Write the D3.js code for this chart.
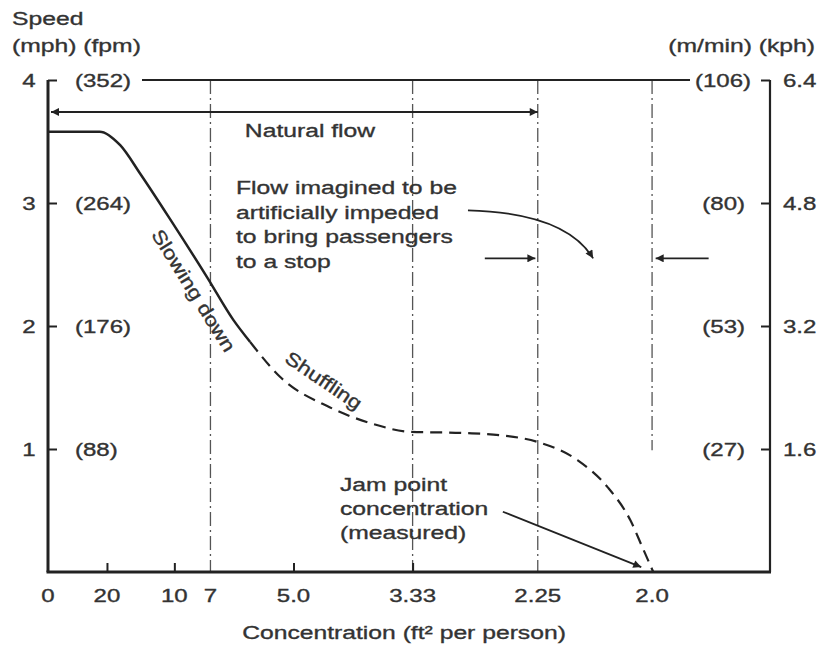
<!DOCTYPE html>
<html>
<head>
  <meta charset="utf-8">
  <script src="https://d3js.org/d3.v7.min.js"></script>
  <style>
    body { margin: 0; background: #fff; }
    text { font-family: "Liberation Sans", Arial, Helvetica, sans-serif; fill: #333; stroke: #333; stroke-width: 0.35px; }
  </style>
</head>
<body>
  <div id="chart"></div>
  <script>

// speed scale (mph) and the matching labels on the other units
const mph = [1, 2, 3, 4];
const fpm = ["(88)", "(176)", "(264)", "(352)"];
const mMin = ["(27)", "(53)", "(80)", "(106)"];
const kph = ["1.6", "3.2", "4.8", "6.4"];

// x axis: persons per ft2, labelled as ft2 per person
const xTickPos = [0, 0.049, 0.105, 0.135, 0.204, 0.303, 0.407, 0.502];
const xTickLabels = ["0", "20", "10", "7", "5.0", "3.33", "2.25", "2.0"];
const xTickMarks = [0.049, 0.105, 0.204, 0.303];

// dash-dot guides: x position and lowest speed reached
const guideX = [0.135, 0.303, 0.407, 0.502];
const guideBottom = [0, 0, 0, 0.99];

// speed curve [density, mph]
const slowing = [[0, 3.58], [0.043, 3.58], [0.060, 3.47], [0.0765, 3.24], [0.104, 2.83],
                 [0.132, 2.40], [0.154, 2.05], [0.168, 1.87]];
const shuffling = [[0.168, 1.87], [0.193, 1.585], [0.234, 1.34], [0.268, 1.21], [0.301, 1.14],
                   [0.345, 1.13], [0.378, 1.11], [0.406, 1.06], [0.440, 0.91], [0.465, 0.69],
                   [0.484, 0.42], [0.494, 0.20], [0.503, 0]];

const width = 825, height = 650;
const x = d3.scaleLinear().domain([0, 0.6]).range([48, 770]);
const y = d3.scaleLinear().domain([0, 4]).range([572, 80]);

const svg = d3.select("#chart").append("svg")
  .attr("width", width)
  .attr("height", height);

const defs = svg.append("defs");
defs.append("marker")
  .attr("id", "head")
  .attr("viewBox", "0 0 10 10")
  .attr("refX", 10).attr("refY", 5)
  .attr("markerWidth", 11).attr("markerHeight", 8)
  .attr("markerUnits", "userSpaceOnUse")
  .attr("orient", "auto-start-reverse")
  .append("path")
  .attr("d", "M0,0 L10,5 L0,10 z")
  .attr("fill", "#222");

// text is drawn a little wider than normal, like the picture
function label(px, py, txt, anchor, size) {
  return svg.append("text")
    .attr("transform", `translate(${px},${py}) scale(1.3,1)`)
    .attr("text-anchor", anchor || "start")
    .attr("font-size", size || 19)
    .text(txt);
}

// guides
svg.selectAll(".guide")
  .data(guideX)
  .enter()
  .append("line")
  .attr("class", "guide")
  .attr("x1", d => x(d)).attr("x2", d => x(d))
  .attr("y1", y(4))
  .attr("y2", (d, i) => y(guideBottom[i]))
  .attr("stroke", "#555")
  .attr("stroke-width", 1.3)
  .attr("stroke-dasharray", "14,4,2,4");

// frame
svg.append("line").attr("x1", x(0)).attr("x2", x(0)).attr("y1", y(4)).attr("y2", y(0))
  .attr("stroke", "#222").attr("stroke-width", 3);
svg.append("line").attr("x1", x(0.6)).attr("x2", x(0.6)).attr("y1", y(4)).attr("y2", y(0))
  .attr("stroke", "#222").attr("stroke-width", 2.2);
svg.append("line").attr("x1", x(0) - 1.5).attr("x2", x(0.6) + 1).attr("y1", y(0)).attr("y2", y(0))
  .attr("stroke", "#222").attr("stroke-width", 3);
svg.append("line").attr("x1", 142).attr("x2", 690).attr("y1", y(4)).attr("y2", y(4))
  .attr("stroke", "#222").attr("stroke-width", 2);

// y axes, ticks pointing inward
const leftAxis = svg.append("g")
  .attr("transform", `translate(${x(0)},0)`)
  .call(d3.axisRight(y).tickValues(mph).tickSize(9).tickFormat(""));
const rightAxis = svg.append("g")
  .attr("transform", `translate(${x(0.6)},0)`)
  .call(d3.axisLeft(y).tickValues(mph).tickSize(9).tickFormat(""));
[leftAxis, rightAxis].forEach(g => {
  g.select(".domain").remove();
  g.selectAll("line").attr("stroke", "#222").attr("stroke-width", 2);
});

mph.forEach((d, i) => {
  label(29, y(d) + 7, String(d), "middle", 18.5);
  label(75, y(d) + 7, fpm[i], "start", 18.5);
  label(d === 4 ? 751 : 745, y(d) + 7, mMin[i], "end", 18.5);
  label(783, y(d) + 7, kph[i], "start", 18.5);
});

// x axis ticks pointing up
const xAxis = svg.append("g")
  .attr("transform", `translate(0,${y(0)})`)
  .call(d3.axisTop(x).tickValues(xTickMarks).tickSize(9).tickFormat(""));
xAxis.select(".domain").remove();
xAxis.selectAll("line").attr("stroke", "#222").attr("stroke-width", 2);

xTickPos.forEach((d, i) => label(x(d), 602, xTickLabels[i], "middle", 18.5));

// titles
label(12, 25, "Speed");
label(12, 52, "(mph) (fpm)");
label(815, 52, "(m/min) (kph)", "end");
label(404, 639, "Concentration (ft\u00b2 per person)", "middle");

// curve
const line = d3.line().x(d => x(d[0])).y(d => y(d[1])).curve(d3.curveMonotoneX);
svg.append("path").datum(slowing)
  .attr("d", line)
  .attr("fill", "none").attr("stroke", "#222").attr("stroke-width", 2.5);
svg.append("path").datum(shuffling)
  .attr("d", line)
  .attr("fill", "none").attr("stroke", "#222").attr("stroke-width", 2.2)
  .attr("stroke-dasharray", "12,7");

svg.append("text")
  .attr("transform", "translate(188,294) rotate(58) scale(1.2,1)")
  .attr("text-anchor", "middle").attr("font-size", 19)
  .text("Slowing down");
svg.append("text")
  .attr("transform", "translate(320,386) rotate(34) scale(1.2,1)")
  .attr("text-anchor", "middle").attr("font-size", 19)
  .text("Shuffling");

// natural flow
svg.append("line")
  .attr("x1", x(0) + 3).attr("x2", x(0.407))
  .attr("y1", y(3.74)).attr("y2", y(3.74))
  .attr("stroke", "#222").attr("stroke-width", 1.8)
  .attr("marker-start", "url(#head)").attr("marker-end", "url(#head)");
label(310, 137, "Natural flow", "middle");

// flow impeded note
["Flow imagined to be", "artificially impeded", "to bring passengers", "to a stop"]
  .forEach((t, i) => label(236, 194 + i * 24.5, t));
svg.append("path")
  .attr("d", `M${x(0.349)},${y(2.94)} Q${x(0.43)},${y(2.92)} ${x(0.453)},${y(2.55)}`)
  .attr("fill", "none").attr("stroke", "#222").attr("stroke-width", 1.8)
  .attr("marker-end", "url(#head)");
svg.append("line")
  .attr("x1", x(0.363)).attr("x2", x(0.405)).attr("y1", y(2.55)).attr("y2", y(2.55))
  .attr("stroke", "#222").attr("stroke-width", 1.8).attr("marker-end", "url(#head)");
svg.append("line")
  .attr("x1", x(0.549)).attr("x2", x(0.505)).attr("y1", y(2.55)).attr("y2", y(2.55))
  .attr("stroke", "#222").attr("stroke-width", 1.8).attr("marker-end", "url(#head)");

// jam point note
["Jam point", "concentration", "(measured)"]
  .forEach((t, i) => label(340, 491 + i * 24, t));
svg.append("line")
  .attr("x1", x(0.378)).attr("x2", x(0.493)).attr("y1", y(0.49)).attr("y2", y(0.04))
  .attr("stroke", "#222").attr("stroke-width", 1.8).attr("marker-end", "url(#head)");

  </script>
</body>
</html>
